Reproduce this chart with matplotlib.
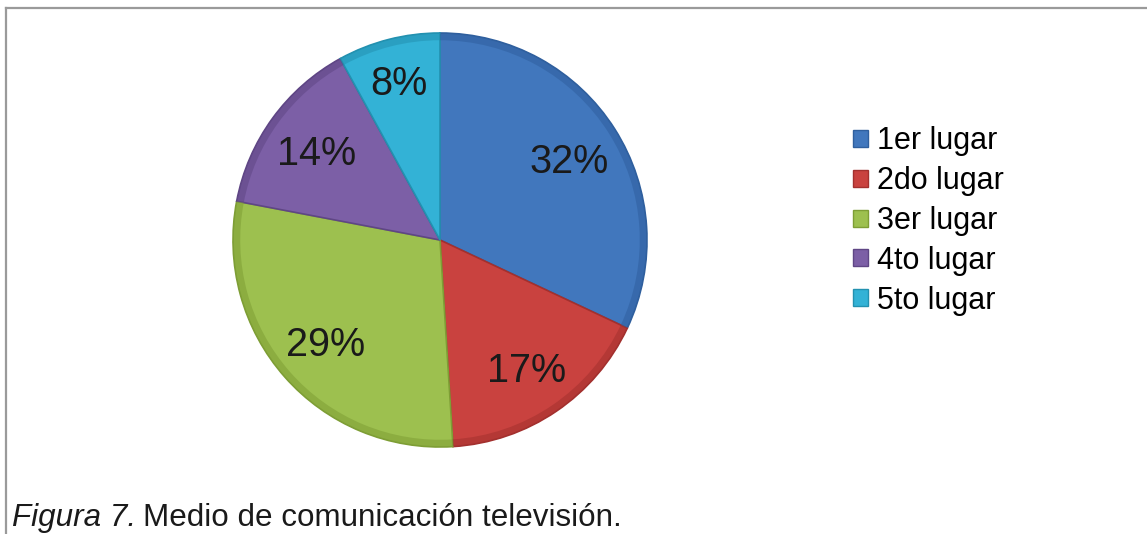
import matplotlib

matplotlib.use("Agg")
import matplotlib.pyplot as plt  # noqa: E402
import numpy as np  # noqa: E402
from matplotlib.lines import Line2D  # noqa: E402
from matplotlib.patches import Patch  # noqa: E402

plt.rcParams["font.family"] = ["Liberation Sans", "DejaVu Sans"]

# data
labels = ["1er lugar", "2do lugar", "3er lugar", "4to lugar", "5to lugar"]
shares = [32, 17, 29, 14, 8]
colors = ["#4177BD", "#C9423F", "#9DC04F", "#7C5FA6", "#33B2D6"]
edges = ["#2F5F9E", "#A3302E", "#7E9E35", "#5F4685", "#2391B0"]
caption_italic = "Figura 7."
caption_rest = "Medio de comunicación televisión."

W, H = 1147, 534
fig = plt.figure(figsize=(W / 100, H / 100), dpi=100)

# pie: centre (440, 240) px from top-left, radius 207 px
cx, cy, r = 440, 240, 207
ax = fig.add_axes([(cx - r) / W, (H - cy - r) / H, 2 * r / W, 2 * r / H])
wedges, _ = ax.pie(shares, colors=colors, startangle=90, counterclock=False,
                   wedgeprops=dict(linewidth=1.2, clip_on=False))
for w, ec in zip(wedges, edges):
    w.set_edgecolor(ec)
# slight darker rim for the bevelled look
ax.pie(shares, colors=edges, startangle=90, counterclock=False, radius=1.0,
       wedgeprops=dict(width=0.035, linewidth=0, alpha=0.55, clip_on=False))

# percentage labels, the thin slice's label sits a bit further out
for w, s in zip(wedges, shares):
    mid = np.deg2rad((w.theta1 + w.theta2) / 2)
    d = 0.80 if s < 10 else 0.74
    ax.text(d * np.cos(mid), d * np.sin(mid), f"{s}%", fontsize=28.5,
            ha="center", va="center_baseline", color="#1a1a1a")

ax.set_xlim(-1, 1)
ax.set_ylim(-1, 1)
ax.set_aspect("equal")
ax.axis("off")

handles = [Patch(facecolor=c, edgecolor=e, linewidth=1) for c, e in zip(colors, edges)]
fig.legend(handles, labels, loc="center left", bbox_to_anchor=(853 / W, 1 - 221 / H),
           frameon=False, fontsize=22, handlelength=0.48, handleheight=0.48,
           handletextpad=0.3, labelspacing=0.32, borderpad=0, borderaxespad=0)

# chart frame (only top and left edges are visible)
fig.add_artist(Line2D([5.5 / W, 1], [1 - 7.5 / H] * 2, color="#9a9a9a", lw=1.6))
fig.add_artist(Line2D([5.5 / W] * 2, [0, 1 - 7.5 / H], color="#9a9a9a", lw=1.6))

# caption
t1 = fig.text(12 / W, (H - 526) / H, caption_italic, fontsize=22.6, style="italic",
              va="baseline", color="#1a1a1a")
fig.canvas.draw()
bb = t1.get_window_extent()
fig.text((bb.x1 + 7) / W, (H - 526) / H, caption_rest, fontsize=22.6,
         va="baseline", color="#1a1a1a")

fig.savefig("out.png", dpi=100)
plt.close(fig)
